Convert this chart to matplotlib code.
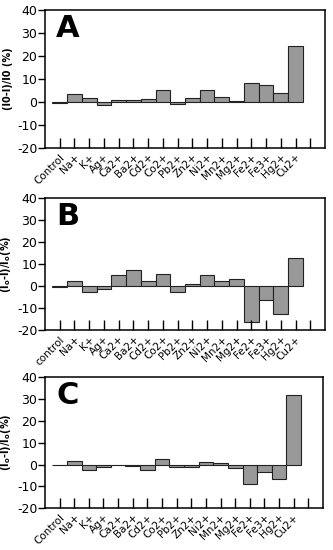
import numpy as np
import matplotlib.pyplot as plt

plt.rcParams['font.family'] = ['DejaVu Sans']
plt.rcParams['axes.unicode_minus'] = False

ions_a = ['Control', 'Na+', 'K+', 'Ag+', 'Ca2+', 'Ba2+', 'Cd2+', 'Co2+', 'Pb2+',
          'Zn2+', 'Ni2+', 'Mn2+', 'Mg2+', 'Fe2+', 'Fe3+', 'Hg2+', 'Cu2+']
ions_b = ['control'] + ions_a[1:]
ions_c = ions_a

vals_a = [-0.3, 3.6, 1.6, -1.2, 0.7, 1.0, 1.4, 5.4, -1.0, 1.7, 5.4, 2.0, 0.6, 8.2, 7.2, 4.0, 24.3]
vals_b = [-0.3, 2.1, -2.6, -1.2, 5.0, 7.2, 2.1, 5.3, -2.6, 1.0, 5.0, 2.1, 3.1, -16.4, -6.3, -12.8, 12.6]
vals_c = [-0.2, 1.6, -2.7, -0.9, -0.3, -0.5, -2.7, 2.6, -1.2, -1.2, 1.0, 0.6, -1.7, -9.1, -3.2, -6.8, 32.1]

ylabels = ['(I0-I)/I0 (%)', '(I$_\\mathbf{o}$-I)/I$_\\mathbf{o}$(%)',
           '(I$_\\mathbf{o}$-I)/I$_\\mathbf{o}$(%)']
letters = ['A', 'B', 'C']

fig = plt.figure(figsize=(3.33, 5.5), dpi=100)
boxes = [[0.135, 0.731, 0.841, 0.251],
         [0.135, 0.400, 0.841, 0.240],
         [0.135, 0.076, 0.835, 0.238]]

for box, names, vals, yl, let in zip(boxes, [ions_a, ions_b, ions_c],
                                     [vals_a, vals_b, vals_c], ylabels, letters):
    ax = fig.add_axes(box)
    x = np.arange(len(names))
    ax.bar(x, vals, width=1.0, color='#999999', edgecolor='#222222', linewidth=0.8)
    ax.set_xlim(-1, 18)
    ax.set_ylim(-20, 40)
    ax.set_yticks([-20, -10, 0, 10, 20, 30, 40])
    ax.set_xticks(np.arange(18))
    ax.set_xticklabels(names + [''], rotation=45, ha='right', rotation_mode='anchor',
                       fontsize=7.5)
    ax.tick_params(axis='x', direction='in', length=7, width=1, pad=3)
    ax.tick_params(axis='y', direction='out', length=5, width=1, labelsize=9, pad=0.5)
    ax.set_ylabel(yl, fontsize=7, fontweight='bold')
    ax.yaxis.set_label_coords(-0.115, 0.5)
    for s in ax.spines.values():
        s.set_linewidth(1.1)
    ax.text(0.04, 0.97, let, transform=ax.transAxes, fontsize=22, fontweight='bold',
            va='top', ha='left')

plt.savefig('out.png', dpi=100)
